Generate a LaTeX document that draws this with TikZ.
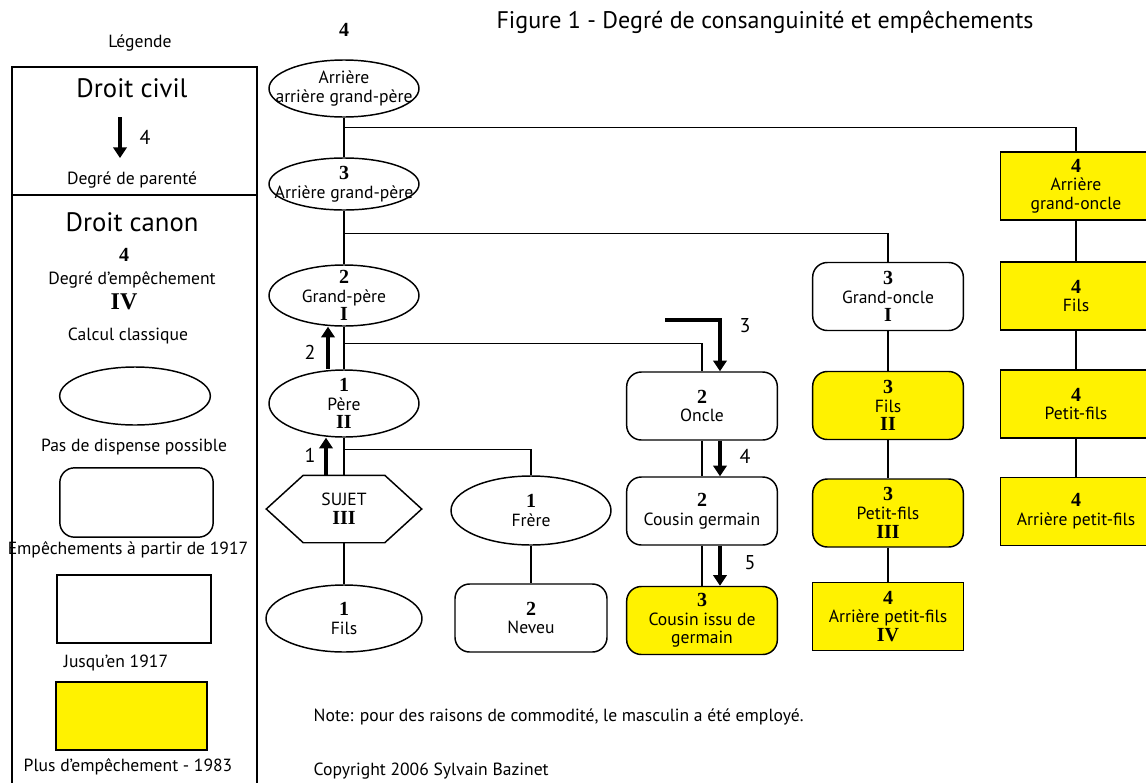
\documentclass[tikz,border=0pt]{standalone}
\usepackage{fontspec}
\setsansfont{PT Sans}
\newfontfamily\numfont{Liberation Serif}
\usetikzlibrary{shapes.geometric,arrows.meta}

\definecolor{jaune}{RGB}{255,242,0}
\newcommand{\nb}[1]{{\numfont\bfseries\fontsize{15}{15}\selectfont #1}}

\tikzset{every picture/.style={line width=1.1pt},
  ell/.style={draw,ellipse,minimum width=112.5pt,inner sep=0pt},
  rbox/.style={draw,rounded corners=11pt,minimum width=113pt,minimum height=51pt,inner sep=0pt},
  sbox/.style={draw,minimum width=113pt,minimum height=51pt,inner sep=0pt},
  yel/.style={fill=jaune},
  lbl/.style={align=center,inner sep=0pt,font=\sffamily\fontsize{13.2}{14}\selectfont},
  big/.style={inner sep=0pt,font=\sffamily\fontsize{20}{22}\selectfont},
  deg/.style={inner sep=0pt,font=\sffamily\fontsize{15}{15}\selectfont},
  civil/.style={line width=3.5pt,-{Triangle[width=10pt,length=8pt]}}
}

\begin{document}
\begin{tikzpicture}[x=0.75pt,y=0.75pt,yscale=-1,xscale=1]
\useasboundingbox (0,0) rectangle (1146,782);

% Title
\node[font=\sffamily\fontsize{18}{20}\selectfont] (titre) at (765,22) {Figure 1 - Degré de consanguinité et empêchements};

%Legend
\node[lbl] (leg) at (140,43) {Légende};
\draw (12,790) -- (12,67) -- (257,67) -- (257,790);
\draw (12,195) -- (257,195);
\node[big] (civ) at (132,88) {Droit civil};
\coordinate (leg-a) at (120,117);
\coordinate (leg-b) at (120,158);
\draw[civil] (leg-a) -- (leg-b);
\node[deg] (leg-4) at (145,137) {4};
\node[lbl] (leg-par) at (132,180) {Degré de parenté};
\node[big] (can) at (132,222) {Droit canon};
\node (leg-n) at (124,255) {\nb{4}};
\node[lbl] (leg-emp) at (132,280) {Degré d'empêchement};
\node (leg-r) at (124,302) {{\numfont\bfseries\fontsize{18}{18}\selectfont IV}};
\node[lbl] (leg-cal) at (128,336) {Calcul classique};
\node[ell,minimum width=113pt,minimum height=43.5pt] (leg-ell) at (135,396) {};
\node[lbl] (leg-pas) at (134,447) {Pas de dispense possible};
\node[rbox,minimum width=115pt,minimum height=52pt] (leg-rbox) at (136.5,502.5) {};
\node[lbl] (leg-1917) at (128,550) {Empêchements à partir de 1917};
\node[sbox,minimum width=115.5pt] (leg-sbox) at (134,609) {};
\node[lbl] (leg-jus) at (116,663) {Jusqu'en 1917};
\node[sbox,yel] (leg-ybox) at (131.5,716) {};
\node[lbl] (leg-1983) at (128,767) {Plus d'empêchement - 1983};

%Shapes: direct line
\node[ell,minimum height=42.75pt] (aagp) at (344,88.5) {};
\node[ell,minimum height=39pt] (agp) at (344,184) {};
\node[ell,minimum height=45.75pt] (gp) at (344,295.5) {};
\node[ell,minimum height=50.25pt] (pere) at (344,403.5) {};
\node[minimum width=115.5pt,minimum height=49.5pt,inner sep=0pt] (sujet) at (344,509) {};
\draw (sujet.west) -- ([xshift=27.75pt]sujet.north west) -- ([xshift=-27.75pt]sujet.north east) -- (sujet.east) -- ([xshift=-27.75pt]sujet.south east) -- ([xshift=27.75pt]sujet.south west) -- cycle;
\node[ell,minimum width=117pt,minimum height=50.25pt] (fils) at (344,618.5) {};

%Shapes: collaterals
\node[ell,minimum width=120pt,minimum height=51.75pt] (frere) at (531,510.5) {};
\node[rbox,minimum width=114pt] (neveu) at (531,618) {};
\node[rbox] (oncle) at (702,406) {};
\node[rbox] (cg) at (702,511) {};
\node[rbox,yel] (cig) at (702,620.5) {};
\node[rbox] (gonc) at (888,296.5) {};
\node[rbox,yel] (fils3) at (888,405.5) {};
\node[rbox,yel] (pf3) at (888,513) {};
\node[sbox,yel] (apf3) at (888,616.5) {};
\node[sbox,yel] (agonc) at (1076,186) {};
\node[sbox,yel] (fils4) at (1076,296) {};
\node[sbox,yel] (pf4) at (1076,404) {};
\node[sbox,yel] (apf4) at (1076,511.5) {};

%Straight Lines
\draw (aagp.south) -- (agp.north);
\draw (aagp.south) ++(0,10) -| (agonc.north);
\draw (agp.south) -- (gp.north);
\draw (agp.south) ++(0,23) -| (gonc.north);
\draw (gp.south) -- (pere.north);
\draw (gp.south) ++(0,17) -| (oncle.north);
\draw (pere.south) -- (sujet.north);
\draw (pere.south) ++(0,12) -| (frere.north);
\draw (sujet.south) -- (fils.north);
\draw (frere.south) -- (neveu.north);
\draw (oncle.south) -- (cg.north);
\draw (cg.south) -- (cig.north);
\draw (gonc.south) -- (fils3.north);
\draw (fils3.south) -- (pf3.north);
\draw (pf3.south) -- (apf3.north);
\draw (agonc.south) -- (fils4.north);
\draw (fils4.south) -- (pf4.north);
\draw (pf4.south) -- (apf4.north);

%Civil degree arrows
\coordinate (a1) at (326,0);
\coordinate (a2) at (328,0);
\coordinate (a3) at (665,320);
\coordinate (a4) at (720,0);
\draw[civil] (sujet.north -| a1) -- (pere.south -| a1);
\draw[civil] (pere.north -| a2) -- (gp.south -| a2);
\draw[civil] (a3) -| (oncle.north -| a4);
\draw[civil] (oncle.south -| a4) -- (cg.north -| a4);
\draw[civil] (cg.south -| a4) -- (cig.north -| a4);
\node[deg] (d1) at (310,455) {1};
\node[deg] (d2) at (310,352) {2};
\node[deg] (d3) at (745,326) {3};
\node[deg] (d4) at (745,456) {4};
\node[deg] (d5) at (750,563) {5};

% Text Node
\node (aagp-n) at (344,30) {\nb{4}};
\node[lbl] (aagp-t) at (aagp) {Arrière\\arrière grand-père};
\node[lbl] (agp-t) at (agp) {\nb{3}\\Arrière grand-père};
\node[lbl] (gp-t) at (gp) {\nb{2}\\Grand-père\\\nb{I}};
\node[lbl] (pere-t) at (pere) {\nb{1}\\Père\\\nb{II}};
\node[lbl] (sujet-t) at (sujet) {SUJET\\\nb{III}};
\node[lbl] (fils-t) at (fils) {\nb{1}\\Fils};
\node[lbl] (frere-t) at (frere) {\nb{1}\\Frère};
\node[lbl] (neveu-t) at (neveu) {\nb{2}\\Neveu};
\node[lbl] (oncle-t) at (oncle) {\nb{2}\\Oncle};
\node[lbl] (cg-t) at (cg) {\nb{2}\\Cousin germain};
\node[lbl] (cig-t) at (cig) {\nb{3}\\Cousin issu de\\germain};
\node[lbl] (gonc-t) at (gonc) {\nb{3}\\Grand-oncle\\\nb{I}};
\node[lbl] (fils3-t) at (fils3) {\nb{3}\\Fils\\\nb{II}};
\node[lbl] (pf3-t) at (pf3) {\nb{3}\\Petit-fils\\\nb{III}};
\node[lbl] (apf3-t) at (apf3) {\nb{4}\\Arrière petit-fils\\\nb{IV}};
\node[lbl] (agonc-t) at (agonc) {\nb{4}\\Arrière\\grand-oncle};
\node[lbl] (fils4-t) at (fils4) {\nb{4}\\Fils};
\node[lbl] (pf4-t) at (pf4) {\nb{4}\\Petit-fils};
\node[lbl] (apf4-t) at (apf4) {\nb{4}\\Arrière petit-fils};

% Notes
\node[lbl,anchor=west] (note) at (313,717) {Note: pour des raisons de commodité, le masculin a été employé.};
\node[lbl,anchor=west] (copy) at (313,771) {Copyright 2006 Sylvain Bazinet};

\end{tikzpicture}
\end{document}
